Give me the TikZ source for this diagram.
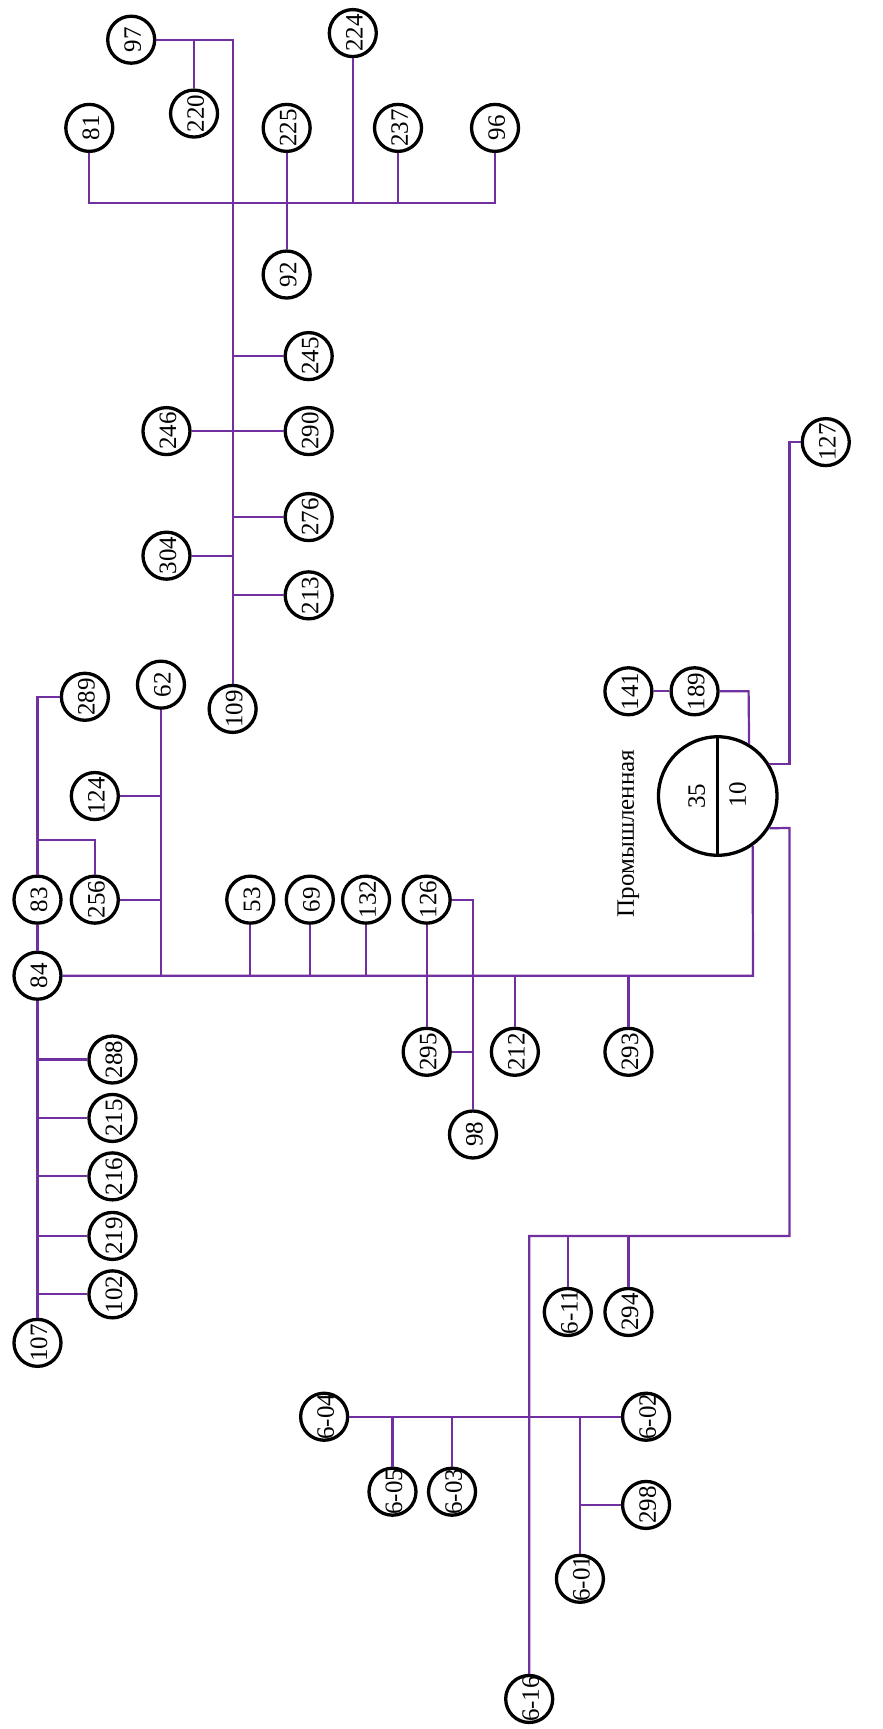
\documentclass[tikz,border=0pt]{standalone}
\usepackage{fontspec}
\setmainfont{Liberation Serif}
\newcommand{\stn}[4]{\node[station] (#1) at (#2,#3) {\makebox[0pt][c]{\smash{\raisebox{-.39em}{#4}}}};}
\tikzset{
  station/.style={circle,draw=black,line width=3.3pt,fill=none,inner sep=0pt,minimum size=47pt,rotate=90,font=\fontsize{25}{25}\selectfont,text=black},
  source/.style={circle,draw=black,line width=3.3pt,inner sep=0pt,minimum size=118.5pt},
  caption/.style={rotate=90,inner sep=0pt,font=\fontsize{25}{25}\selectfont,text=black},
  link/.style={draw=linkpurple,line width=2.2pt,line cap=butt,line join=miter}
}
\definecolor{linkpurple}{HTML}{7030A0}
\begin{document}
\begin{tikzpicture}[x=1.1025pt,y=-1.1025pt]
\useasboundingbox (0,0) rectangle (800,1568.25);
\stn{n97}{119}{36}{97}
\stn{n220}{176}{103}{220}
\stn{n224}{320}{30}{224}
\stn{n81}{81}{116}{81}
\stn{n225}{260}{116}{225}
\stn{n237}{361}{116}{237}
\stn{n96}{449}{116}{96}
\stn{n92}{260}{249}{92}
\stn{n245}{280}{323}{245}
\stn{n246}{151}{391}{246}
\stn{n290}{280}{391}{290}
\stn{n276}{280}{469}{276}
\stn{n304}{151}{504}{304}
\stn{n213}{280}{540}{213}
\stn{n109}{211}{643}{109}
\stn{n62}{146}{621}{62}
\stn{n289}{77}{632}{289}
\stn{n124}{86}{722}{124}
\stn{n83}{34}{816}{83}
\stn{n256}{86}{816}{256}
\stn{n84}{34}{885}{84}
\stn{n53}{227}{816}{53}
\stn{n69}{281}{816}{69}
\stn{n132}{332}{816}{132}
\stn{n126}{387}{816}{126}
\stn{n295}{387}{954}{295}
\stn{n212}{467}{954}{212}
\stn{n293}{570}{954}{293}
\stn{n98}{429}{1029}{98}
\stn{n288}{102}{961}{288}
\stn{n215}{102}{1014}{215}
\stn{n216}{102}{1067}{216}
\stn{n219}{102}{1121}{219}
\stn{n102}{102}{1174}{102}
\stn{n107}{34}{1218}{107}
\stn{n141}{570}{627}{141}
\stn{n189}{630}{627}{189}
\stn{n127}{749}{401}{127}
\stn{n611}{515}{1190}{6-11}
\stn{n294}{570}{1190}{294}
\stn{n604}{294}{1285}{6-04}
\stn{n605}{356}{1353}{6-05}
\stn{n603}{410}{1353}{6-03}
\stn{n602}{586}{1285}{6-02}
\stn{n298}{586}{1365}{298}
\stn{n601}{526}{1432}{6-01}
\stn{n616}{480}{1541}{6-16}
\node[source] (big) at (651,722) {};
\node[caption] (t35) at (632,722) {35};
\node[caption] (t10) at (669,721) {10};
\node[caption] (tname) at (570,756) {Промышленная};
\draw[black,line width=3.3pt] (big.north) -- (big.south);
\coordinate (tr) at (211,184);
\coordinate (bb) at (683,885);
\coordinate (j83) at (34,762);
\coordinate (j189) at (679,627);
\coordinate (j127) at (716,401);
\coordinate (j10) at (716,751);
\coordinate (jh) at (480,1121);
\coordinate (j601) at (526,1285);
% upper group
\path[link] (n97) -- (n97 -| tr) -- (n109);
\path[link] (n220) -- (n220 |- n97);
\path[link] (n81) -- (n81 |- tr) -- (n96 |- tr) -- (n96);
\path[link] (n225) -- (n92);
\path[link] (n224) -- (n224 |- tr);
\path[link] (n237) -- (n237 |- tr);
\path[link] (n245) -- (n245 -| tr);
\path[link] (n246) -- (n290);
\path[link] (n276) -- (n276 -| tr);
\path[link] (n304) -- (n304 -| tr);
\path[link] (n213) -- (n213 -| tr);
% middle bus
\path[link] (n84) -- (bb) -- (big.-55);
\path[link] (n62) -- (n62 |- n84);
\path[link] (n124) -- (n124 -| n62);
\path[link] (n256) -- (n256 -| n62);
\path[link] (n53) -- (n53 |- n84);
\path[link] (n69) -- (n69 |- n84);
\path[link] (n132) -- (n132 |- n84);
\path[link] (n126) -- (n295);
\path[link] (n126) -- (n126 -| n98) -- (n98);
\path[link] (n295) -- (n295 -| n98);
\path[link] (n212) -- (n212 |- n84);
\path[link] (n293) -- (n293 |- n84);
% left column
\path[link] (n83) -- (n84);
\path[link] (n83) -- (n83 |- n289) -- (n289);
\path[link] (j83) -- (j83 -| n256) -- (n256);
\path[link] (n84) -- (n107);
\path[link] (n288) -- (n288 -| n84);
\path[link] (n215) -- (n215 -| n84);
\path[link] (n216) -- (n216 -| n84);
\path[link] (n219) -- (n219 -| n84);
\path[link] (n102) -- (n102 -| n84);
% source
\path[link] (n141) -- (n189);
\path[link] (n189) -- (j189) -- (big.59);
\path[link] (big.32) -- (big.32 -| j127) -- (j127) -- (n127);
\path[link] (big.-32) -- (j10) -- (j10 |- jh) -- (jh) -- (n616);
\path[link] (n611) -- (n611 |- jh);
\path[link] (n294) -- (n294 |- jh);
% bottom group
\path[link] (n604) -- (n602);
\path[link] (n605) -- (n605 |- n604);
\path[link] (n603) -- (n603 |- n604);
\path[link] (j601) -- (n601);
\path[link] (n298) -- (n298 -| j601);
\end{tikzpicture}
\end{document}
